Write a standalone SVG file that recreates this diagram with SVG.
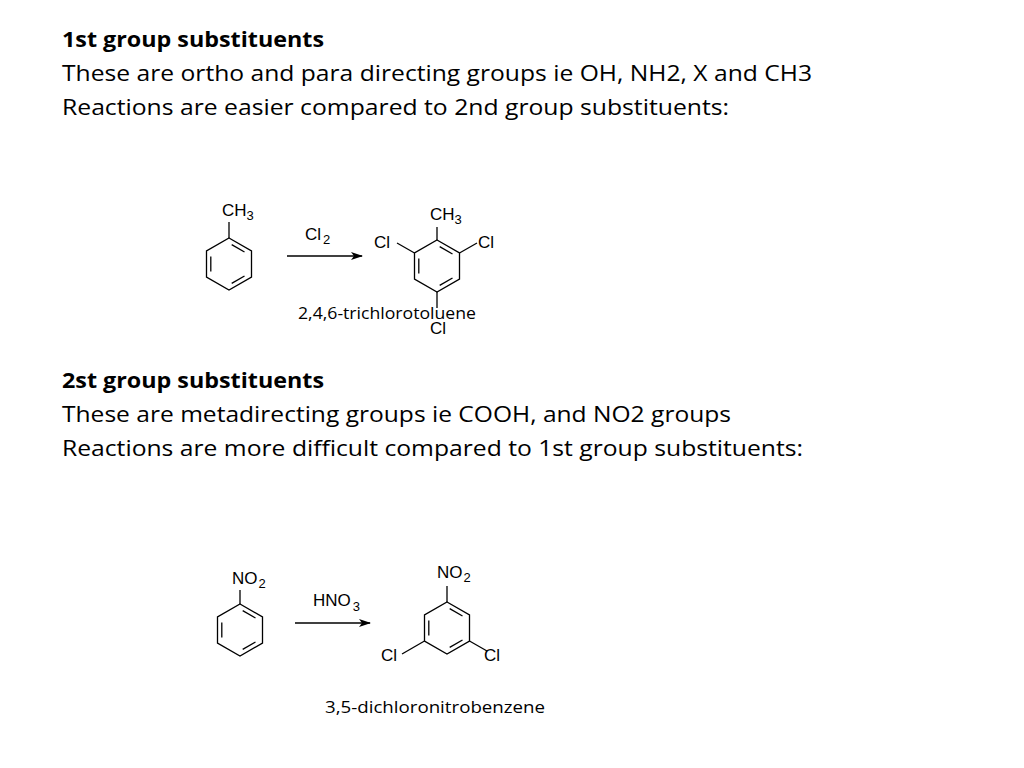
<svg xmlns="http://www.w3.org/2000/svg" xmlns:xlink="http://www.w3.org/1999/xlink" width="1024" height="768" viewBox="0 0 1024 768">
<style>
.h{font-family:"Open Sans","Liberation Sans",sans-serif;font-size:21px;fill:#000}
.b{font-weight:bold}
.c{font-family:"Liberation Sans",Arial,sans-serif;font-size:17px;fill:#000}
.s{font-size:13px}
.l{font-family:"Open Sans","Liberation Sans",sans-serif;font-size:16px;fill:#000}
.ln{stroke:#000;stroke-width:1.3;fill:none}
</style>
<defs>
<g id="ring" class="ln">
<polygon points="0,-26 22.5,-13 22.5,13 0,26 -22.5,13 -22.5,-13"/>
<line x1="2.7" y1="-19.4" x2="15.5" y2="-12"/>
<line x1="-18.2" y1="-7.5" x2="-18.2" y2="7.5"/>
<line x1="2.7" y1="19.4" x2="15.5" y2="12"/>
</g>
<marker id="ar" markerWidth="12" markerHeight="8" refX="11" refY="4" orient="auto" markerUnits="userSpaceOnUse"><path d="M0,0 L12,4 L0,8 L3,4 z" fill="#000"/></marker>
</defs>
<rect width="1024" height="768" fill="#fff"/>
<text class="h b" x="62" y="47" textLength="262" lengthAdjust="spacingAndGlyphs">1st group substituents</text>
<text class="h" x="62" y="81" textLength="750" lengthAdjust="spacingAndGlyphs">These are ortho and para directing groups ie OH, NH2, X and CH3</text>
<text class="h" x="62" y="115" textLength="667" lengthAdjust="spacingAndGlyphs">Reactions are easier compared to 2nd group substituents:</text>
<text class="h b" x="62" y="388" textLength="262" lengthAdjust="spacingAndGlyphs">2st group substituents</text>
<text class="h" x="62" y="422" textLength="669" lengthAdjust="spacingAndGlyphs">These are metadirecting groups ie COOH, and NO2 groups</text>
<text class="h" x="62" y="456" textLength="741" lengthAdjust="spacingAndGlyphs">Reactions are more difficult compared to 1st group substituents:</text>

<g id="toluene">
<use xlink:href="#ring" x="229" y="264"/>
<line class="ln" x1="229" y1="238" x2="229" y2="222"/>
<text class="c" x="222" y="216">CH<tspan class="s" dy="4">3</tspan></text>
</g>
<g id="trichlorotoluene">
<use xlink:href="#ring" x="437" y="266"/>
<g class="ln">
<line x1="437" y1="240" x2="437" y2="227"/>
<line x1="414.5" y1="253" x2="397" y2="243"/>
<line x1="459.5" y1="253" x2="477" y2="243"/>
<line x1="437" y1="292" x2="437" y2="308"/>
</g>
<text class="c" x="430" y="220">CH<tspan class="s" dy="4">3</tspan></text>
<text class="c" x="374" y="248">Cl</text>
<text class="c" x="478" y="248">Cl</text>
<text class="c" x="430" y="334">Cl</text>
<text class="l" x="298" y="319" textLength="178" lengthAdjust="spacingAndGlyphs">2,4,6-trichlorotoluene</text>
</g>
<g id="nitrobenzene">
<use xlink:href="#ring" x="240" y="630"/>
<line class="ln" x1="240" y1="604" x2="240" y2="590"/>
<text class="c" x="232" y="584">NO<tspan class="s" dx="1" dy="4">2</tspan></text>
</g>
<g id="dichloronitrobenzene">
<use xlink:href="#ring" x="447" y="628"/>
<g class="ln">
<line x1="447" y1="602" x2="447" y2="586"/>
<line x1="424.5" y1="641" x2="402" y2="654"/>
<line x1="469.5" y1="641" x2="487" y2="651"/>
</g>
<text class="c" x="437" y="578">NO<tspan class="s" dx="1" dy="4">2</tspan></text>
<text class="c" x="381" y="661">Cl</text>
<text class="c" x="484" y="661">Cl</text>
<text class="l" x="325" y="713" textLength="220" lengthAdjust="spacingAndGlyphs">3,5-dichloronitrobenzene</text>
</g>
<g id="connectors">
<line class="ln" x1="287" y1="256" x2="362" y2="256" marker-end="url(#ar)"/>
<text class="c" x="305" y="240">Cl<tspan class="s" dx="2" dy="4">2</tspan></text>
<line class="ln" x1="295" y1="623" x2="370" y2="623" marker-end="url(#ar)"/>
<text class="c" x="313" y="606">HNO<tspan class="s" dx="2" dy="5">3</tspan></text>
</g>
</svg>
